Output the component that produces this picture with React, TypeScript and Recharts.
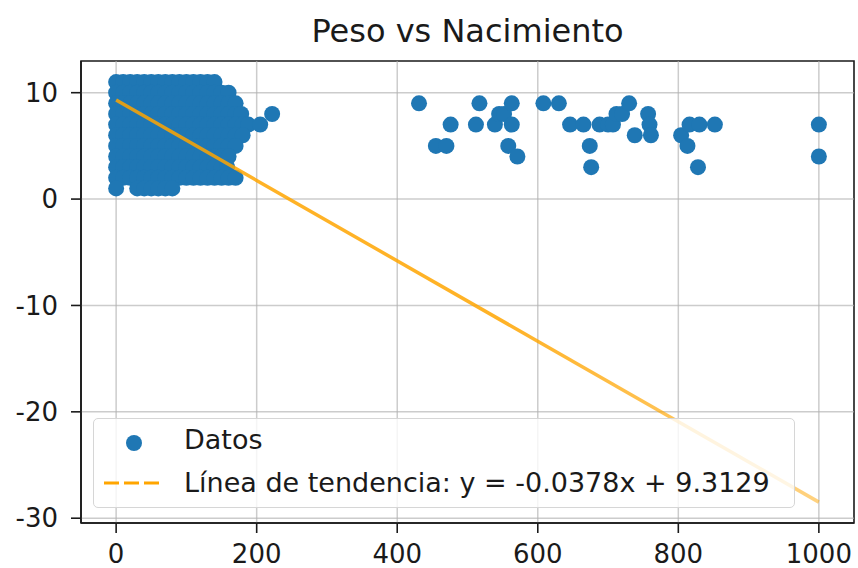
import React from "react";
import {
  ScatterChart,
  Scatter,
  XAxis,
  YAxis,
  ReferenceLine,
  ReferenceArea,
  Legend,
} from "recharts";

const TITLE = "Peso vs Nacimiento";
const SCATTER_NAME = "Datos";
const TREND_NAME = "Línea de tendencia: y = -0.0378x + 9.3129";

const X_TICKS = [0, 200, 400, 600, 800, 1000];
const Y_TICKS = [-30, -20, -10, 0, 10];
const X_DOMAIN: [number, number] = [-50, 1050];
const Y_DOMAIN: [number, number] = [-30.45, 12.98];

// dense cluster near the origin, one row per weight value
const clusterWeights = [11, 10, 9, 8, 7, 6, 5, 4, 3, 2, 1];
const clusterRows = [
  [0, 10, 20, 30, 40, 50, 60, 70, 80, 90, 100, 110, 120, 130, 140],
  [0, 10, 20, 30, 40, 50, 60, 70, 80, 90, 100, 110, 120, 130, 140, 150, 160],
  [0, 10, 20, 30, 40, 50, 60, 70, 80, 90, 100, 110, 120, 130, 140, 150, 160, 170],
  [0, 10, 20, 30, 40, 50, 60, 70, 80, 90, 100, 110, 120, 130, 140, 150, 160, 170, 178],
  [0, 10, 20, 30, 40, 50, 60, 70, 80, 90, 100, 110, 120, 130, 140, 150, 160, 170, 180, 188],
  [0, 10, 20, 30, 40, 50, 60, 70, 80, 90, 100, 110, 120, 130, 140, 150, 160, 170, 180],
  [0, 10, 20, 30, 40, 50, 60, 70, 80, 90, 100, 110, 120, 130, 140, 150, 160, 170],
  [0, 10, 20, 30, 40, 50, 60, 70, 80, 90, 100, 110, 120, 130, 140, 150, 160],
  [0, 10, 20, 30, 40, 50, 60, 70, 80, 90, 100, 110, 120, 130, 140, 150, 158],
  [0, 10, 20, 30, 40, 50, 60, 70, 80, 90, 100, 110, 120, 130, 140, 150, 160, 170],
  [0, 30, 40, 50, 60, 70, 80],
];

// scattered births further out
const sparseX = [
  205, 222, 431, 455, 470, 476, 512, 517, 539, 545, 552, 558, 563, 563, 571,
  608, 630, 646, 665, 674, 676, 688, 700, 707, 712, 720, 730, 738, 757, 759,
  761, 804, 813, 816, 828, 830, 852, 1000, 1000,
];
const sparseY = [
  7, 8, 9, 5, 5, 7, 7, 9, 7, 8, 8, 5, 9, 7, 4,
  9, 9, 7, 7, 5, 3, 7, 7, 7, 8, 8, 9, 6, 8, 7,
  6, 6, 5, 7, 3, 7, 7, 7, 4,
];

const trendX = [0, 1000];
const trendY = [9.3129, -28.4871];

const points = [
  ...clusterRows.flatMap((row, i) => row.map((x) => ({ x, y: clusterWeights[i] }))),
  ...sparseX.map((x, i) => ({ x, y: sparseY[i] })),
];
const trend = trendX.map((x, i) => ({ x, y: trendY[i] }));

const FONT = "'DejaVu Sans', sans-serif";
const INK = "#1a1a1a";
const BLUE = "#1f77b4";
const ORANGE = "#ffa500";

function Dot(props: any) {
  if (props.cx == null || props.cy == null) return <g />;
  return <circle cx={props.cx} cy={props.cy} r={8} fill={BLUE} />;
}

function LegendBox() {
  return (
    <div
      style={{
        position: "relative",
        width: 702,
        height: 90,
        boxSizing: "border-box",
        background: "rgba(255,255,255,0.8)",
        border: "1.5px solid #d6d6d6",
        borderRadius: 5,
        fontFamily: FONT,
        fontSize: 27,
        color: INK,
      }}
    >
      <svg width={80} height={90} style={{ position: "absolute", left: 0, top: 0 }}>
        <circle cx={40} cy={24} r={8} fill={BLUE} />
        <line x1={10} y1={64} x2={67} y2={64} stroke={ORANGE} strokeWidth={3} strokeDasharray="15 5" />
      </svg>
      <span style={{ position: "absolute", left: 90, top: 7, lineHeight: "27px", whiteSpace: "nowrap" }}>
        {SCATTER_NAME}
      </span>
      <span style={{ position: "absolute", left: 90, top: 50, lineHeight: "27px", whiteSpace: "nowrap" }}>
        {TREND_NAME}
      </span>
    </div>
  );
}

export default function App() {
  const tickStyle = { fill: INK, fontSize: 26, fontFamily: FONT };
  return (
    <div style={{ position: "absolute", left: 0, top: 0, width: 858, height: 568, background: "#fff" }}>
      <div
        style={{
          position: "absolute",
          left: 81,
          width: 773,
          top: 15,
          textAlign: "center",
          fontFamily: FONT,
          fontSize: 32,
          lineHeight: "32px",
          color: INK,
        }}
      >
        {TITLE}
      </div>
      <ScatterChart width={858} height={568} margin={{ top: 61, right: 4, left: 0, bottom: 0 }}>
        <defs>
          <linearGradient id="trendGrad" x1="0" y1="0" x2="1" y2="1">
            <stop offset="0%" stopColor={ORANGE} stopOpacity={0.85} />
            <stop offset="55%" stopColor={ORANGE} stopOpacity={0.85} />
            <stop offset="100%" stopColor={ORANGE} stopOpacity={0.5} />
          </linearGradient>
        </defs>
        <XAxis
          type="number"
          dataKey="x"
          domain={X_DOMAIN}
          ticks={X_TICKS}
          interval={0}
          allowDataOverflow
          height={45}
          tickSize={10}
          tickMargin={12}
          tick={tickStyle}
          axisLine={{ stroke: INK, strokeWidth: 1.6 }}
          tickLine={{ stroke: INK, strokeWidth: 1.6 }}
        />
        <YAxis
          type="number"
          dataKey="y"
          domain={Y_DOMAIN}
          ticks={Y_TICKS}
          interval={0}
          allowDataOverflow
          width={81}
          tickSize={10}
          tickMargin={13}
          tick={tickStyle}
          axisLine={{ stroke: INK, strokeWidth: 1.6 }}
          tickLine={{ stroke: INK, strokeWidth: 1.6 }}
        />
        <Scatter name={SCATTER_NAME} data={points} shape={Dot} isAnimationActive={false} />
        {X_TICKS.map((t) => (
          <ReferenceLine key={"gx" + t} x={t} stroke="#b0b0b0" strokeOpacity={0.65} strokeWidth={1.5} />
        ))}
        {Y_TICKS.map((t) => (
          <ReferenceLine key={"gy" + t} y={t} stroke="#b0b0b0" strokeOpacity={0.65} strokeWidth={1.5} />
        ))}
        <Scatter
          name={TREND_NAME}
          data={trend}
          line={{ stroke: "url(#trendGrad)", strokeWidth: 3.5 }}
          shape={() => <g />}
          isAnimationActive={false}
        />
        <ReferenceArea
          x1={X_DOMAIN[0]}
          x2={X_DOMAIN[1]}
          y1={Y_DOMAIN[0]}
          y2={Y_DOMAIN[1]}
          fill="none"
          fillOpacity={0}
          stroke={INK}
          strokeWidth={1.6}
        />
        <Legend
          layout="vertical"
          align="center"
          verticalAlign="middle"
          wrapperStyle={{ left: 93, top: 418, width: 702, height: 90 }}
          content={() => <LegendBox />}
        />
      </ScatterChart>
    </div>
  );
}
